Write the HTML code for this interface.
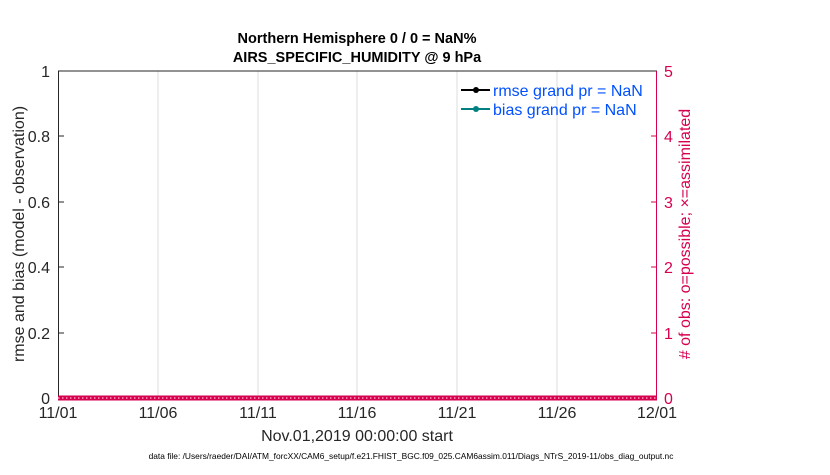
<!DOCTYPE html>
<html><head><style>body{margin:0;background:#fff}</style></head><body>
<svg width="830" height="470" xmlns="http://www.w3.org/2000/svg" font-family="Liberation Sans, sans-serif">
<rect width="830" height="470" fill="#fff"/>
<rect x="58" y="71" width="599" height="327" fill="#fff"/>
<g stroke="#dcdcdc" stroke-width="1">
<line x1="158" y1="71" x2="158" y2="398"/><line x1="258" y1="71" x2="258" y2="398"/>
<line x1="357" y1="71" x2="357" y2="398"/><line x1="457" y1="71" x2="457" y2="398"/>
<line x1="557" y1="71" x2="557" y2="398"/>
</g>
<line x1="58" y1="71" x2="657" y2="71" stroke="#262626"/>
<line x1="58.5" y1="71" x2="58.5" y2="398" stroke="#262626"/>
<line x1="656.5" y1="71" x2="656.5" y2="398" stroke="#d6004f"/>
<g stroke="#262626">
<line x1="58" y1="333" x2="64" y2="333"/><line x1="58" y1="267" x2="64" y2="267"/>
<line x1="58" y1="202" x2="64" y2="202"/><line x1="58" y1="136" x2="64" y2="136"/>
</g>
<g stroke="#d6004f">
<line x1="651" y1="333" x2="657" y2="333"/><line x1="651" y1="267" x2="657" y2="267"/>
<line x1="651" y1="202" x2="657" y2="202"/><line x1="651" y1="136" x2="657" y2="136"/>
</g>
<line x1="58" y1="398" x2="657" y2="398" stroke="#d6004f" stroke-width="5"/>
<line x1="58" y1="398" x2="657" y2="398" stroke="#f07aa0" stroke-width="2" stroke-dasharray="1.5 2.5"/>
<g font-size="16" fill="#262626" text-anchor="end">
<text x="50" y="404">0</text><text x="50" y="339">0.2</text><text x="50" y="273">0.4</text>
<text x="50" y="208">0.6</text><text x="50" y="142">0.8</text><text x="50" y="77">1</text>
</g>
<g font-size="16" fill="#d6004f">
<text x="664" y="404">0</text><text x="664" y="339">1</text><text x="664" y="273">2</text>
<text x="664" y="208">3</text><text x="664" y="142">4</text><text x="664" y="77">5</text>
</g>
<g font-size="16" fill="#262626" text-anchor="middle">
<text x="58" y="418">11/01</text><text x="158" y="418">11/06</text><text x="258" y="418">11/11</text>
<text x="357" y="418">11/16</text><text x="457" y="418">11/21</text><text x="557" y="418">11/26</text>
<text x="657" y="418">12/01</text>
<text x="357" y="441">Nov.01,2019 00:00:00 start</text>
</g>
<g font-size="14.5" font-weight="bold" fill="#000" text-anchor="middle">
<text x="357" y="43">Northern Hemisphere 0 / 0 = NaN%</text>
<text x="357" y="62">AIRS_SPECIFIC_HUMIDITY @ 9 hPa</text>
</g>
<text transform="translate(24,234) rotate(-90)" font-size="16" fill="#262626" text-anchor="middle">rmse and bias (model - observation)</text>
<text transform="translate(690,234) rotate(-90)" font-size="16" fill="#d6004f" text-anchor="middle"># of obs: o=possible; ×=assimilated</text>
<line x1="461" y1="90" x2="490" y2="90" stroke="#000" stroke-width="2"/><circle cx="476" cy="90" r="3" fill="#000"/>
<line x1="461" y1="109" x2="490" y2="109" stroke="#008080" stroke-width="2"/><circle cx="476" cy="109" r="3" fill="#008080"/>
<g font-size="16" fill="#0050ff">
<text x="493" y="96">rmse grand pr = NaN</text>
<text x="493" y="115">bias grand pr = NaN</text>
</g>
<text x="411" y="459" font-size="8.4" fill="#000" text-anchor="middle">data file: /Users/raeder/DAI/ATM_forcXX/CAM6_setup/f.e21.FHIST_BGC.f09_025.CAM6assim.011/Diags_NTrS_2019-11/obs_diag_output.nc</text>
</svg>
</body></html>
